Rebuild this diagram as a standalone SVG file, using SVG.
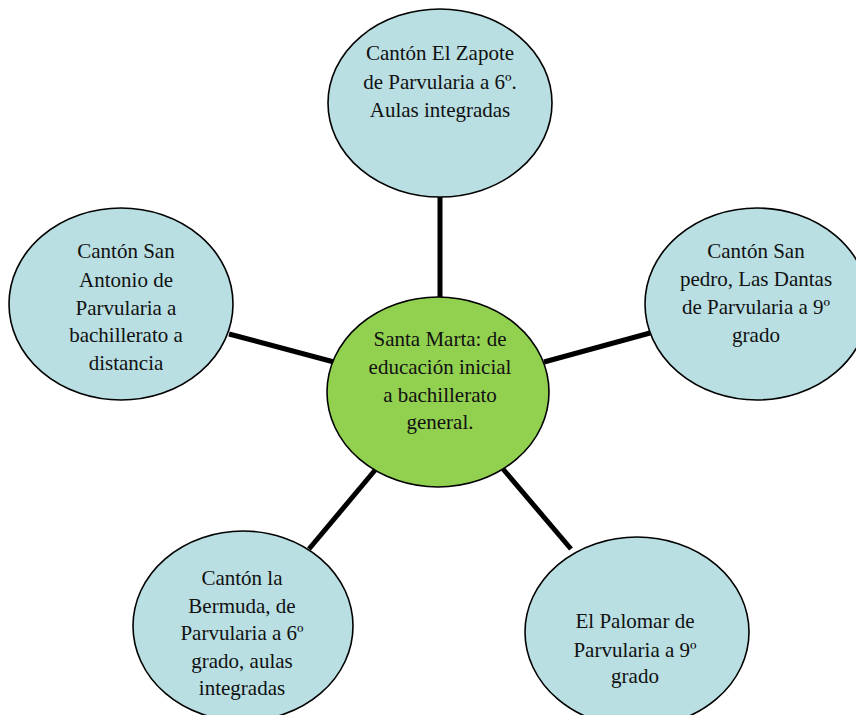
<svg xmlns="http://www.w3.org/2000/svg" width="856" height="715" viewBox="0 0 856 715">
<style>
.n{fill:#b9dfe3;stroke:#000;stroke-width:1.6}
.c{fill:#92d050;stroke:#000;stroke-width:1.6}
.t{font-family:"Liberation Serif","Times New Roman",serif;font-size:21px;fill:#111;text-anchor:middle}
.e{stroke:#000;stroke-width:5;fill:none}
</style>
<rect width="856" height="715" fill="#fff"/>
<g id="connectors">
<line class="e" x1="440" y1="196" x2="440" y2="298"/>
<line class="e" x1="229" y1="334" x2="334" y2="362"/>
<line class="e" x1="544" y1="362" x2="650" y2="333"/>
<line class="e" x1="376" y1="469" x2="309" y2="549"/>
<line class="e" x1="503" y1="469" x2="571" y2="549"/>
</g>
<g id="top">
<ellipse class="n" cx="440" cy="103" rx="112" ry="94"/>
<text class="t" x="440" y="60">Cantón El Zapote</text>
<text class="t" x="440" y="89">de Parvularia a 6º.</text>
<text class="t" x="440" y="117">Aulas integradas</text>
</g>
<g id="right">
<ellipse class="n" cx="757" cy="304" rx="112" ry="96"/>
<text class="t" x="756" y="258">Cantón San</text>
<text class="t" x="756" y="286">pedro, Las Dantas</text>
<text class="t" x="756" y="314">de Parvularia a 9º</text>
<text class="t" x="756" y="342">grado</text>
</g>
<g id="left">
<ellipse class="n" cx="121" cy="304" rx="112" ry="96"/>
<text class="t" x="126" y="258">Cantón San</text>
<text class="t" x="126" y="287">Antonio de</text>
<text class="t" x="126" y="315">Parvularia a</text>
<text class="t" x="126" y="342">bachillerato a</text>
<text class="t" x="126" y="370">distancia</text>
</g>
<g id="center">
<ellipse class="c" cx="438" cy="392" rx="111" ry="95"/>
<text class="t" x="440" y="346">Santa Marta: de</text>
<text class="t" x="440" y="374">educación inicial</text>
<text class="t" x="440" y="402">a bachillerato</text>
<text class="t" x="440" y="429">general.</text>
</g>
<g id="bottomleft">
<ellipse class="n" cx="243" cy="626" rx="110" ry="95"/>
<text class="t" x="242" y="585">Cantón la</text>
<text class="t" x="242" y="613">Bermuda, de</text>
<text class="t" x="242" y="640">Parvularia a 6º</text>
<text class="t" x="242" y="668">grado, aulas</text>
<text class="t" x="242" y="695">integradas</text>
</g>
<g id="bottomright">
<ellipse class="n" cx="637" cy="632" rx="112" ry="95"/>
<text class="t" x="635" y="628">El Palomar de</text>
<text class="t" x="635" y="657">Parvularia a 9º</text>
<text class="t" x="635" y="683">grado</text>
</g>
</svg>
